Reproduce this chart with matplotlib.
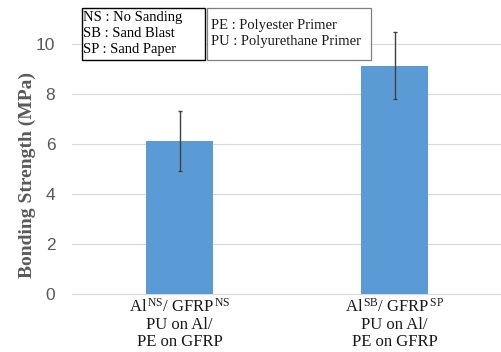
import matplotlib.pyplot as plt
from matplotlib.patches import Rectangle

plt.rcParams['mathtext.fontset'] = 'custom'
plt.rcParams['mathtext.rm'] = 'Liberation Serif'
plt.rcParams['mathtext.it'] = 'Liberation Serif:italic'

categories = [
    '$\\mathrm{Al}^{\\,\\mathrm{NS}}$/ GFRP$^{\\,\\mathrm{NS}}$\nPU on Al/\nPE on GFRP',
    '$\\mathrm{Al}^{\\,\\mathrm{SB}}$/ GFRP$^{\\,\\mathrm{SP}}$\nPU on Al/\nPE on GFRP',
]
strength = [6.12, 9.13]
errors = [1.2, 1.35]
yticks = [0, 2, 4, 6, 8, 10]
legend1 = ['NS : No Sanding', 'SB : Sand Blast', 'SP : Sand Paper']
legend2 = ['PE : Polyester Primer', 'PU : Polyurethane Primer']

W, H = 502, 352
fig = plt.figure(figsize=(W / 100, H / 100), dpi=100)
ax = fig.add_axes([72 / W, 58 / H, 430 / W, 294 / H])

x = range(len(categories))
ax.bar(x, strength, width=0.31, color='#5B9BD5', zorder=3)
ax.errorbar(x, strength, yerr=errors, fmt='none', ecolor='#404040',
            elinewidth=1, capsize=1.2, capthick=1, zorder=4, clip_on=False)

ax.set_xlim(-0.5, 1.5)
ax.set_ylim(0, 11.76)
ax.set_yticks(yticks)
ax.set_yticklabels([str(v) for v in yticks], family='Liberation Sans',
                   fontsize=12.5, color='#595959')
ax.set_xticks(list(x))
ax.set_xticklabels(categories, family='Liberation Serif', fontsize=12,
                   color='#1a1a1a', linespacing=1.1)
ax.tick_params(length=0)
ax.tick_params(axis='y', pad=12)
ax.tick_params(axis='x', pad=3)
ax.grid(axis='y', color='#D9D9D9', linewidth=0.8, zorder=0)
for s in ['top', 'right', 'left']:
    ax.spines[s].set_visible(False)
ax.spines['bottom'].set_color('#D9D9D9')

fig.text(27 / W, 1 - 175 / H, 'Bonding Strength (MPa)', rotation=90,
         ha='center', va='center', family='Liberation Serif',
         fontweight='bold', fontsize=14, color='#595959')

# legend boxes
fig.add_artist(Rectangle((82 / W, 1 - 60 / H), 123 / W, 52 / H,
                         transform=fig.transFigure, fc='white', ec='black', lw=1))
fig.add_artist(Rectangle((207 / W, 1 - 60 / H), 164 / W, 52 / H,
                         transform=fig.transFigure, fc='white', ec='#808080', lw=0.9))
for i, t in enumerate(legend1):
    fig.text(83 / W, 1 - (18 + 15.5 * i) / H, t, ha='left', va='center',
             family='Liberation Serif', fontsize=10.5)
for i, t in enumerate(legend2):
    fig.text(211 / W, 1 - (25 + 17 * i) / H, t, ha='left', va='center',
             family='Liberation Serif', fontsize=10.5, color='#1a1a1a')

fig.savefig('out.png', dpi=100)
